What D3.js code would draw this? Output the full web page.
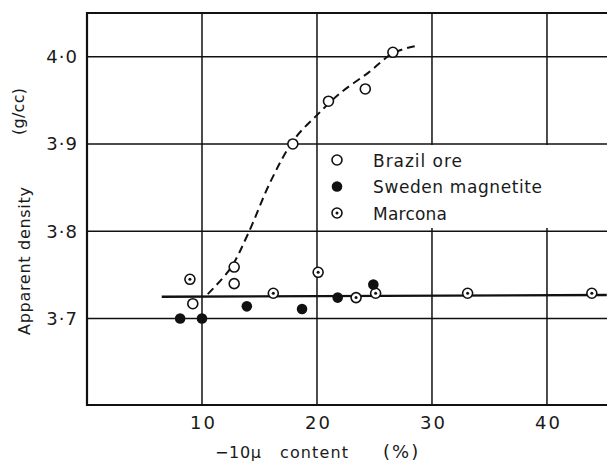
<!DOCTYPE html>
<html>
<head>
<meta charset="utf-8">
<script src="https://cdn.jsdelivr.net/npm/d3@7"></script>
<style>
  html, body { margin: 0; padding: 0; background: #fff; }
  text { font-family: "DejaVu Sans", Lato, sans-serif; fill: #1a1a1a; }
</style>
</head>
<body>
<div id="chart"></div>
<script>
// data
const brazilX = [9.2, 12.8, 12.8, 17.9, 21.0, 24.2, 26.6]
const brazilY = [3.717, 3.759, 3.740, 3.900, 3.949, 3.963, 4.005]

const swedenX = [8.1, 10.0, 13.9, 18.7, 21.8, 24.9]
const swedenY = [3.700, 3.700, 3.714, 3.711, 3.724, 3.739]

const marconaX = [8.95, 16.2, 20.1, 23.4, 25.1, 33.1, 43.9]
const marconaY = [3.745, 3.729, 3.753, 3.724, 3.729, 3.729, 3.729]

// hand-drawn trend curve through the Brazil ore points
const curveX = [10.5, 12.5, 14.0, 16.0, 18.0, 20.0, 22.0, 24.5, 26.6, 28.5]
const curveY = [3.728, 3.758, 3.797, 3.858, 3.905, 3.933, 3.958, 3.982, 4.004, 4.012]

// level line for Marcona / Sweden
const levelX = [6.5, 45.2]
const levelY = [3.725, 3.727]

const xTicks = [10, 20, 30, 40]
const yTicks = [3.7, 3.8, 3.9, 4.0]
const yTickLabels = ['3·7', '3·8', '3·9', '4·0']

const legendNames = ['Brazil ore', 'Sweden magnetite', 'Marcona']

const width = 607
const height = 465
const margin = { top: 13, right: 0, bottom: 60, left: 87 }

const svg = d3.create('svg')
    .attr('width', width)
    .attr('height', height)
    .attr('viewBox', [0, 0, width, height])

const x = d3.scaleLinear()
    .domain([0, 45.22])
    .range([margin.left, width - margin.right])

const y = d3.scaleLinear()
    .domain([3.601, 4.05])
    .range([height - margin.bottom, margin.top])

/* grid */
const grid = svg.append('g').attr('stroke', '#111').attr('stroke-width', 1.5)
grid.selectAll('.vgrid')
    .data(xTicks)
    .enter()
    .append('line')
    .attr('x1', d => x(d)).attr('x2', d => x(d))
    .attr('y1', y.range()[1]).attr('y2', y.range()[0])
grid.selectAll('.hgrid')
    .data(yTicks)
    .enter()
    .append('line')
    .attr('x1', x.range()[0]).attr('x2', x.range()[1])
    .attr('y1', d => y(d)).attr('y2', d => y(d))

/* frame: left, top, bottom (right side is cut off) */
svg.append('path')
    .attr('fill', 'none')
    .attr('stroke', '#111')
    .attr('stroke-width', 2.2)
    .attr('d', `M${x.range()[1]},${y.range()[1]}H${x.range()[0]}V${y.range()[0]}H${x.range()[1]}`)

/* tick labels */
const xAxis = d3.axisBottom(x).tickValues(xTicks).tickSize(0).tickPadding(11)
svg.append('g')
    .attr('transform', `translate(0,${y.range()[0]})`)
    .call(xAxis)
    .call(g => g.select('.domain').remove())
    .selectAll('text')
    .style('font-family', '"DejaVu Sans", sans-serif')
    .style('font-size', '18px')
    .attr('fill', '#1a1a1a')
    .attr('letter-spacing', 2)
    .attr('dx', 1)

const yAxis = d3.axisLeft(y).tickValues(yTicks).tickSize(0).tickPadding(9)
    .tickFormat((d, i) => yTickLabels[i])
svg.append('g')
    .attr('transform', `translate(${x.range()[0]},0)`)
    .call(yAxis)
    .call(g => g.select('.domain').remove())
    .selectAll('text')
    .style('font-family', '"DejaVu Sans", sans-serif')
    .style('font-size', '18px')
    .attr('fill', '#1a1a1a')
    .attr('letter-spacing', 1)

/* axis titles */
svg.append('text')
    .attr('x', 215).attr('y', 458)
    .attr('font-size', 16)
    .attr('textLength', 46)
    .attr('lengthAdjust', 'spacing')
    .text('−10μ')
svg.append('text')
    .attr('x', 280).attr('y', 458)
    .attr('font-size', 16)
    .attr('textLength', 68)
    .attr('lengthAdjust', 'spacing')
    .text('content')
svg.append('text')
    .attr('x', 383).attr('y', 458)
    .attr('font-size', 18)
    .attr('letter-spacing', 2)
    .text('(%)')

svg.append('text')
    .attr('transform', 'translate(30,335) rotate(-90)')
    .attr('font-size', 16)
    .attr('textLength', 148)
    .attr('lengthAdjust', 'spacing')
    .text('Apparent density')
svg.append('text')
    .attr('transform', 'translate(24,135) rotate(-90)')
    .attr('font-size', 16)
    .attr('textLength', 47)
    .attr('lengthAdjust', 'spacing')
    .text('(g/cc)')

/* lines */
const line = d3.line().x(d => x(d[0])).y(d => y(d[1]))

svg.append('path')
    .datum(d3.zip(levelX, levelY))
    .attr('fill', 'none')
    .attr('stroke', '#111')
    .attr('stroke-width', 2.4)
    .attr('d', line)

svg.append('path')
    .datum(d3.zip(curveX, curveY))
    .attr('fill', 'none')
    .attr('stroke', '#111')
    .attr('stroke-width', 2)
    .attr('stroke-dasharray', '8,5')
    .attr('d', line.curve(d3.curveCatmullRom))

/* markers */
const r = 5
const drawOpen = (g, cx, cy) => g.append('circle')
    .attr('cx', cx).attr('cy', cy).attr('r', r)
    .attr('fill', '#fff').attr('stroke', '#111').attr('stroke-width', 1.6)
const drawFilled = (g, cx, cy) => g.append('circle')
    .attr('cx', cx).attr('cy', cy).attr('r', r + 0.3)
    .attr('fill', '#111')
const drawDotted = (g, cx, cy) => {
    drawOpen(g, cx, cy)
    g.append('circle').attr('cx', cx).attr('cy', cy).attr('r', 1.5).attr('fill', '#111')
}

const marks = svg.append('g')
d3.zip(marconaX, marconaY).forEach(d => drawDotted(marks, x(d[0]), y(d[1])))
d3.zip(swedenX, swedenY).forEach(d => drawFilled(marks, x(d[0]), y(d[1])))
d3.zip(brazilX, brazilY).forEach(d => drawOpen(marks, x(d[0]), y(d[1])))

/* legend, blanking out the grid behind it */
const legendWidths = [89, 169, 74]
const legend = svg.append('g').attr('transform', 'translate(337,160)')
legend.append('rect')
    .attr('x', -18).attr('y', -15).attr('width', 272).attr('height', 83)
    .attr('fill', '#fff')
const drawers = [drawOpen, drawFilled, drawDotted]
legendNames.forEach((name, i) => {
    drawers[i](legend, 0, i * 26.5)
    legend.append('text')
        .attr('x', 36).attr('y', i * 26.5 + 6.5)
        .attr('font-size', 17)
        .attr('textLength', legendWidths[i])
        .attr('lengthAdjust', 'spacing')
        .text(name)
})

document.getElementById('chart').appendChild(svg.node())
</script>
</body>
</html>
